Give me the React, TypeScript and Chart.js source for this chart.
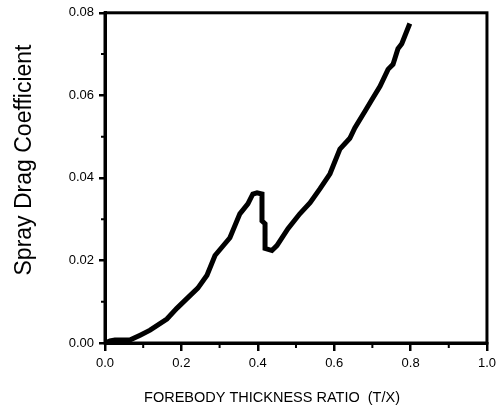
import React, { useEffect, useRef } from "react";
import { Chart, registerables } from "chart.js";

Chart.register(...registerables);

const forebodyRatio = [
  0, 0.013, 0.026, 0.065, 0.092, 0.118, 0.162, 0.188, 0.215, 0.243, 0.267, 0.288,
  0.327, 0.353, 0.374, 0.387, 0.398, 0.411, 0.411, 0.419, 0.419, 0.437, 0.45,
  0.479, 0.51, 0.537, 0.563, 0.589, 0.615, 0.641, 0.654, 0.681, 0.699, 0.72,
  0.741, 0.754, 0.767, 0.777, 0.798,
];
const sprayDrag = [
  0, 0.0005, 0.0007, 0.0007, 0.0019, 0.0031, 0.0058, 0.0084, 0.0108, 0.0133,
  0.0164, 0.0212, 0.0255, 0.0313, 0.0337, 0.0361, 0.0364, 0.0361, 0.0296,
  0.0289, 0.0229, 0.0224, 0.0236, 0.0277, 0.0313, 0.034, 0.0374, 0.041, 0.047,
  0.0496, 0.0521, 0.0562, 0.059, 0.0622, 0.0663, 0.0675, 0.0713, 0.0725, 0.0774,
];
const xMinorTicks = [0.1, 0.3, 0.5, 0.7, 0.9];
const yMinorTicks = [0.01, 0.03, 0.05, 0.07];
const xTitle = "FOREBODY THICKNESS RATIO  (T/X)";
const yTitle = "Spray Drag Coefficient";

const FONT = "'Liberation Sans', Arial, Helvetica, sans-serif";

const framePlugin = {
  id: "frameAndTitles",
  afterDraw(chart: any) {
    const { ctx, chartArea, scales } = chart;
    const { left, right, top, bottom } = chartArea;
    ctx.save();
    ctx.strokeStyle = "#000";
    ctx.lineWidth = 3;
    ctx.strokeRect(left, top, right - left, bottom - top);
    ctx.lineWidth = 2;
    ctx.beginPath();
    for (const v of xMinorTicks) {
      const px = scales.x.getPixelForValue(v);
      ctx.moveTo(px, bottom);
      ctx.lineTo(px, bottom + 5);
    }
    for (const v of yMinorTicks) {
      const py = scales.y.getPixelForValue(v);
      ctx.moveTo(left - 4, py);
      ctx.lineTo(left, py);
    }
    ctx.stroke();

    ctx.fillStyle = "#000";
    ctx.textAlign = "center";
    ctx.textBaseline = "middle";
    ctx.font = `14.5px ${FONT}`;
    ctx.fillText(xTitle, 272, 398);
    ctx.translate(25, 160);
    ctx.rotate(-Math.PI / 2);
    ctx.font = `23px ${FONT}`;
    ctx.fillText(yTitle, 0, 0);
    ctx.restore();
  },
};

export default function App() {
  const ref = useRef<HTMLCanvasElement>(null);
  useEffect(() => {
    if (!ref.current) return;
    const chart = new Chart(ref.current, {
      type: "line",
      data: {
        datasets: [
          {
            data: forebodyRatio.map((x, i) => ({ x, y: sprayDrag[i] })),
            borderColor: "#000",
            borderWidth: 5,
            pointRadius: 0,
            tension: 0,
            fill: false,
            clip: false as any,
          },
        ],
      },
      options: {
        animation: false,
        responsive: false,
        layout: { padding: { left: 0, top: 11, right: 14, bottom: 0 } },
        plugins: { legend: { display: false }, tooltip: { enabled: false } },
        scales: {
          x: {
            type: "linear",
            min: 0,
            max: 1,
            afterFit: (s: any) => {
              s.height = 67;
            },
            ticks: {
              stepSize: 0.2,
              color: "#000",
              padding: 5,
              font: { family: FONT, size: 13 },
              callback: (v: any) => Number(v).toFixed(1),
            },
            grid: {
              drawOnChartArea: false,
              drawTicks: true,
              tickLength: 8,
              color: "#000",
              lineWidth: 2.5,
            },
            border: { display: true, color: "#000", width: 3 },
          },
          y: {
            min: 0,
            max: 0.08,
            afterFit: (s: any) => {
              s.width = 105;
            },
            ticks: {
              stepSize: 0.02,
              color: "#000",
              padding: 5,
              font: { family: FONT, size: 13 },
              callback: (v: any) => Number(v).toFixed(2),
            },
            grid: {
              drawOnChartArea: false,
              drawTicks: true,
              tickLength: 6,
              color: "#000",
              lineWidth: 2.5,
            },
            border: { display: true, color: "#000", width: 3 },
          },
        },
      },
      plugins: [framePlugin],
    });
    return () => chart.destroy();
  }, []);
  return (
    <div style={{ position: "fixed", left: 0, top: 0, width: 501, height: 410, background: "#fff" }}>
      <canvas ref={ref} width={501} height={410} style={{ display: "block", width: 501, height: 410 }} />
    </div>
  );
}
